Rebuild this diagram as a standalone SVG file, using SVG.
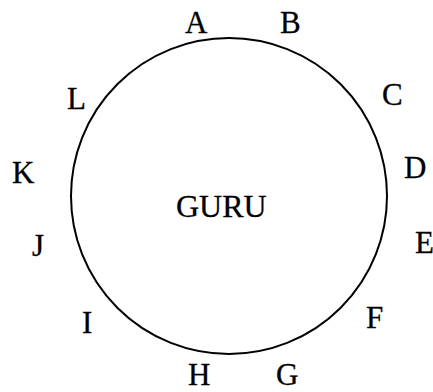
<svg xmlns="http://www.w3.org/2000/svg" width="433" height="392" viewBox="0 0 433 392">
<style>
.t{font-family:'Liberation Serif','Times New Roman',Times,serif;font-size:31px;fill:#000;stroke:#000;stroke-width:0.3}
.ring{fill:none;stroke:#000;stroke-width:2}
</style>
<rect width="433" height="392" fill="#fff"/>
<g id="guru">
<circle class="ring" cx="229" cy="196" r="158"/>
<text class="t" x="176" y="217" style="font-size:32px">GURU</text>
</g>
<g id="A"><text class="t" x="185" y="33">A</text></g>
<g id="B"><text class="t" x="280" y="33">B</text></g>
<g id="C"><text class="t" x="382" y="105">C</text></g>
<g id="D"><text class="t" x="404" y="178">D</text></g>
<g id="E"><text class="t" x="415" y="253">E</text></g>
<g id="F"><text class="t" x="366" y="328">F</text></g>
<g id="G"><text class="t" x="276" y="385">G</text></g>
<g id="H"><text class="t" x="188" y="385">H</text></g>
<g id="I"><text class="t" x="82" y="333">I</text></g>
<g id="J"><text class="t" x="32" y="256">J</text></g>
<g id="K"><text class="t" x="12" y="183">K</text></g>
<g id="L"><text class="t" x="67" y="109">L</text></g>
<g id="connectors"></g>
</svg>
